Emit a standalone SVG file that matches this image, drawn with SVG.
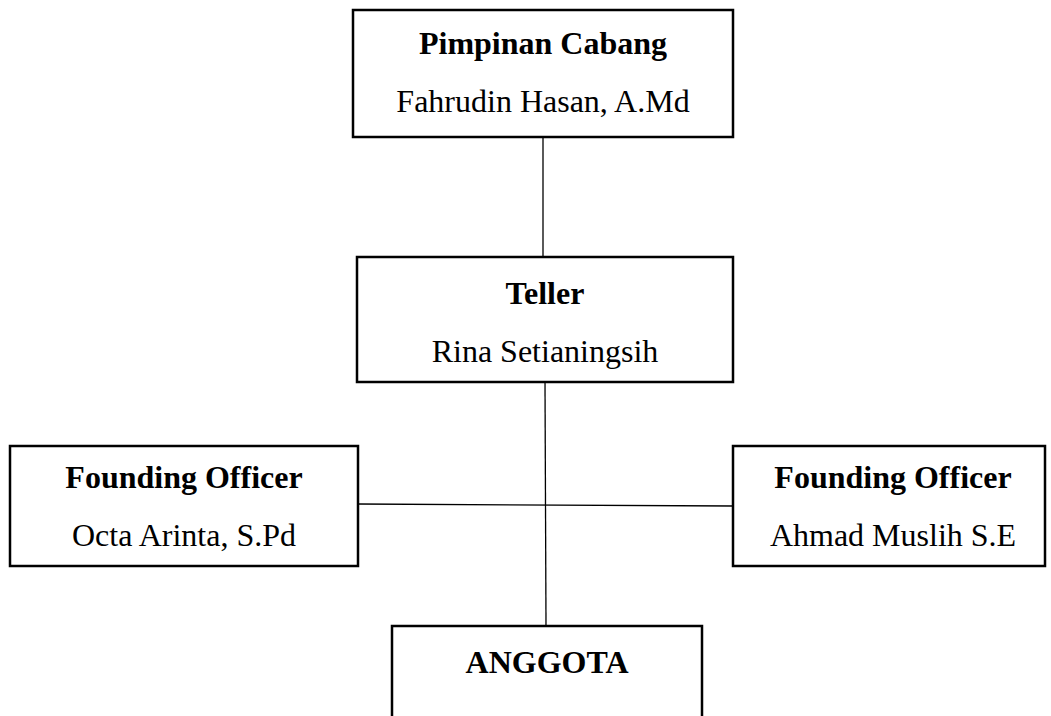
<svg xmlns="http://www.w3.org/2000/svg" width="1051" height="716" viewBox="0 0 1051 716">
<style>
.box{fill:#fff;stroke:#000;stroke-width:2.5}
.t{font-family:"Liberation Serif","Times New Roman",serif;font-size:32px;text-anchor:middle;fill:#000}
.b{font-weight:bold}
.ln{stroke:#000;stroke-width:1.3;fill:none}
</style>
<rect width="1051" height="716" fill="#fff"/>
<g id="connectors">
<line class="ln" x1="543" y1="137" x2="543" y2="257"/>
<line class="ln" x1="545" y1="382" x2="546" y2="626"/>
<line class="ln" x1="358" y1="504" x2="733" y2="506"/>
</g>
<g id="pimpinan">
<rect class="box" x="353" y="10" width="380" height="127"/>
<text class="t b" x="543" y="54">Pimpinan Cabang</text>
<text class="t" x="543" y="112">Fahrudin Hasan, A.Md</text>
</g>
<g id="teller">
<rect class="box" x="357" y="257" width="376" height="125"/>
<text class="t b" x="545" y="304">Teller</text>
<text class="t" x="545" y="362">Rina Setianingsih</text>
</g>
<g id="fo-left">
<rect class="box" x="10" y="446" width="348" height="120"/>
<text class="t b" x="184" y="488">Founding Officer</text>
<text class="t" x="184" y="546">Octa Arinta, S.Pd</text>
</g>
<g id="fo-right">
<rect class="box" x="733" y="446" width="312" height="120"/>
<text class="t b" x="893" y="488">Founding Officer</text>
<text class="t" x="893" y="546">Ahmad Muslih S.E</text>
</g>
<g id="anggota">
<rect class="box" x="392" y="626" width="310" height="110"/>
<text class="t b" x="547" y="673">ANGGOTA</text>
</g>
</svg>
